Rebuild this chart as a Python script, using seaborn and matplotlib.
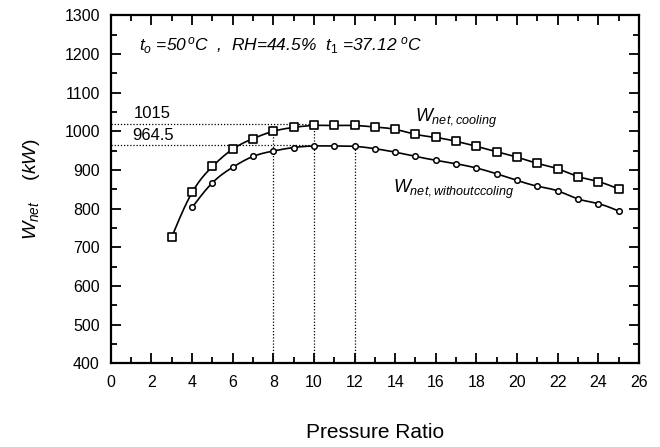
import numpy as np
import pandas as pd
import matplotlib
matplotlib.use("Agg")
import matplotlib.pyplot as plt
import seaborn as sns

# Net power output vs compressor pressure ratio
ratio_cooling = [3, 4, 5, 6, 7, 8, 9, 10, 11, 12, 13, 14, 15, 16, 17, 18, 19, 20, 21, 22, 23, 24, 25]
w_cooling = [727, 842, 909, 954, 981, 1000, 1010, 1015, 1015, 1015, 1011, 1005, 992, 984, 974,
             961, 947, 933, 917, 903, 883, 870, 851]

ratio_nocool = [4, 5, 6, 7, 8, 9, 10, 11, 12, 13, 14, 15, 16, 17, 18, 19, 20, 21, 22, 23, 24, 25]
w_nocool = [803, 867, 907, 935, 949, 958, 962, 962, 961, 955, 946, 935, 925, 916, 905, 890,
            873, 858, 846, 825, 813, 794]

x_ticks = list(range(0, 27, 2))
y_ticks = list(range(400, 1301, 100))

peak_cooling = 1015
peak_nocool = 964.5


def natural_spline(x, y, xs):
    """Natural cubic spline through (x, y), evaluated at xs."""
    x = np.asarray(x, float)
    y = np.asarray(y, float)
    n = len(x)
    h = np.diff(x)
    A = np.zeros((n, n))
    b = np.zeros(n)
    A[0, 0] = A[-1, -1] = 1.0
    for i in range(1, n - 1):
        A[i, i - 1] = h[i - 1]
        A[i, i] = 2 * (h[i - 1] + h[i])
        A[i, i + 1] = h[i]
        b[i] = 3 * ((y[i + 1] - y[i]) / h[i] - (y[i] - y[i - 1]) / h[i - 1])
    c = np.linalg.solve(A, b)
    bb = (y[1:] - y[:-1]) / h - h * (2 * c[:-1] + c[1:]) / 3
    d = (c[1:] - c[:-1]) / (3 * h)
    idx = np.clip(np.searchsorted(x, xs) - 1, 0, n - 2)
    t = xs - x[idx]
    return y[idx] + bb[idx] * t + c[idx] * t ** 2 + d[idx] * t ** 3


sns.set_theme(style="ticks")
plt.rcParams["font.family"] = ["Liberation Sans", "DejaVu Sans"]
plt.rcParams["mathtext.fontset"] = "custom"
plt.rcParams["mathtext.rm"] = "Liberation Sans"
plt.rcParams["mathtext.it"] = "Liberation Sans:italic"
plt.rcParams["text.color"] = "black"
plt.rcParams["axes.labelcolor"] = "black"

fig = plt.figure(figsize=(6.6, 4.47), dpi=100)
ax = fig.add_axes([0.168, 0.187, 0.800, 0.779])

# smooth curves through the data
xs_c = np.linspace(ratio_cooling[0], ratio_cooling[-1], 400)
xs_n = np.linspace(ratio_nocool[0], ratio_nocool[-1], 400)
curve_c = pd.DataFrame({"ratio": xs_c, "w": natural_spline(ratio_cooling, w_cooling, xs_c)})
curve_n = pd.DataFrame({"ratio": xs_n, "w": natural_spline(ratio_nocool, w_nocool, xs_n)})
sns.lineplot(data=curve_c, x="ratio", y="w", color="black", lw=1.2, ax=ax)
sns.lineplot(data=curve_n, x="ratio", y="w", color="black", lw=1.2, ax=ax)

pts_c = pd.DataFrame({"ratio": ratio_cooling, "w": w_cooling})
pts_n = pd.DataFrame({"ratio": ratio_nocool, "w": w_nocool})
sns.scatterplot(data=pts_c, x="ratio", y="w", marker="s", s=30, facecolor="white",
                edgecolor="black", linewidth=1.2, zorder=3, ax=ax)
sns.scatterplot(data=pts_n, x="ratio", y="w", marker="o", s=16, facecolor="white",
                edgecolor="black", linewidth=1.1, zorder=3, ax=ax)

# guide lines to the maxima
dot = dict(color="black", linestyle=(0, (1, 1.5)), lw=0.9, zorder=1)
ax.plot([0, 10], [peak_cooling + 3, peak_cooling + 3], **dot)
ax.plot([0, 10], [peak_nocool, peak_nocool], **dot)
ax.plot([8, 8], [400, 1000], **dot)
ax.plot([10, 10], [400, 1015], **dot)
ax.plot([12, 12], [400, 961], **dot)

ax.text(1.15, 1047, f"{peak_cooling:g}", fontsize=12, ha="left", va="center")
ax.text(1.05, 990, f"{peak_nocool:g}", fontsize=12, ha="left", va="center")

ax.text(1.4, 1222, r"$t_o$ =50$^{\,o}$C  ,  RH=44.5%  $t_1$ =37.12 $^{o}$C",
        fontsize=12.5, style="italic", ha="left", va="center")
ax.text(15.0, 1034, r"$W_{net,cooling}$", fontsize=13, ha="left", va="center")
ax.text(13.9, 851, r"$W_{net,withoutccoling}$", fontsize=13, ha="left", va="center")

ax.set_xlim(0, 26)
ax.set_ylim(400, 1300)
ax.set_xticks(x_ticks)
ax.set_yticks(y_ticks)
ax.set_xticks(np.arange(1, 26, 2), minor=True)
ax.set_yticks(np.arange(450, 1300, 100), minor=True)
ax.tick_params(which="both", direction="in", top=True, right=True, labelsize=11.5,
               colors="black", width=1.3)
ax.tick_params(axis="x", which="major", pad=8)
ax.tick_params(axis="y", which="major", pad=8)
ax.tick_params(which="major", length=7)
ax.tick_params(which="minor", length=4.5)
for sp in ax.spines.values():
    sp.set_linewidth(1.6)
    sp.set_color("black")

ax.set_xlabel("Pressure Ratio", fontsize=15, labelpad=24)
ax.set_ylabel(r"$W_{net}$    $(kW)$", fontsize=14, labelpad=16)

fig.savefig("out.png", dpi=100, facecolor="white")
